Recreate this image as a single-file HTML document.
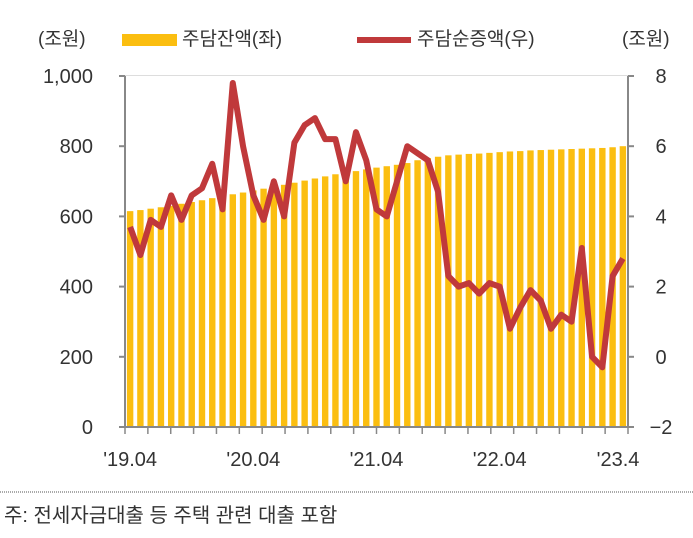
<!DOCTYPE html>
<html><head><meta charset="utf-8"><style>
body{margin:0;background:#fff;font-family:"Liberation Sans","Noto Sans CJK KR",sans-serif;}
svg text{font-family:"Liberation Sans","Noto Sans CJK KR",sans-serif;fill:#333;}
</style></head><body>
<svg id="c" width="693" height="533" viewBox="0 0 693 533">
<text x="38" y="45" font-size="19">(조원)</text>
<rect x="122" y="34" width="55" height="12" fill="#FBBE10"/>
<text x="182" y="45" font-size="19">주담잔액(좌)</text>
<line x1="357" y1="40" x2="411" y2="40" stroke="#C0393B" stroke-width="6"/>
<text x="417" y="45" font-size="19">주담순증액(우)</text>
<text x="622" y="45" font-size="19">(조원)</text>
<line x1="125" y1="75.5" x2="628" y2="75.5" stroke="#ddd" stroke-width="1"/>
<g id="bars"></g><g id="axes"></g><g id="line"></g>
<line x1="0" y1="492" x2="693" y2="492" stroke="#555" stroke-width="1" stroke-dasharray="1,1"/>
<text x="4" y="522" font-size="20">주: 전세자금대출 등 주택 관련 대출 포함</text>
</svg>
<script>
const balance=[615,618,622,626,630,636,641,646,652,657,663,668,674,679,684,690,696,702,708,714,720,724,729,734,739,743,747,752,760,766,770,774,776,778,779,781,783,785,786,788,789,790,791,792,793,794,795,797,800];
const increase=[3.7,2.9,3.9,3.7,4.6,3.9,4.6,4.8,5.5,4.2,7.8,6.0,4.6,3.9,5.0,4.0,6.1,6.6,6.8,6.2,6.2,5.0,6.4,5.6,4.2,4.0,5.0,6.0,5.8,5.6,4.7,2.3,2.0,2.1,1.8,2.1,2.0,0.8,1.4,1.9,1.6,0.8,1.2,1.0,3.1,0.0,-0.3,2.3,2.8];
const leftTicks=[0,200,400,600,800,1000];
const rightTicks=[-2,0,2,4,6,8];
const xLabels=["'19.04","'20.04","'21.04","'22.04","'23.4"];
const xLabelIdx=[0,12,24,36,48];
const NS="http://www.w3.org/2000/svg";
const X0=125,X1=628,Y0=427,Y1=76;
const n=balance.length;
const step=(X1-X0)/n;
function xc(i){return X0+step*(i+0.5);}
function yl(v){return Y0-(v/1000)*(Y0-Y1);}
function yr(v){return Y0-((v+2)/10)*(Y0-Y1);}
function mk(tag,attrs,parent){const e=document.createElementNS(NS,tag);for(const k in attrs)e.setAttribute(k,attrs[k]);parent.appendChild(e);return e;}
const gb=document.getElementById('bars'),ga=document.getElementById('axes'),gl=document.getElementById('line');
balance.forEach((v,i)=>{const r=mk('rect',{x:xc(i)-3.2,y:yl(v),width:6.4,height:Y0-yl(v),fill:'#FBBE10'},gb);

});
let a=mk('line',{x1:X0,y1:Y1,x2:X0,y2:Y0,stroke:'#888','stroke-width':2},ga);


a=mk('line',{x1:X1,y1:Y1,x2:X1,y2:Y0,stroke:'#888','stroke-width':2},ga);


a=mk('line',{x1:X0-5,y1:Y0,x2:X1+5,y2:Y0,stroke:'#888','stroke-width':2},ga);


leftTicks.forEach(v=>{mk('line',{x1:X0-6,y1:yl(v),x2:X0,y2:yl(v),stroke:'#888','stroke-width':2},ga);
const t=mk('text',{x:X0-10-22,y:yl(v)+7,'font-size':20,'text-anchor':'end'},ga);t.textContent=v.toLocaleString('en-US');

});
rightTicks.forEach(v=>{mk('line',{x1:X1,y1:yr(v),x2:X1+6,y2:yr(v),stroke:'#888','stroke-width':2},ga);
const t=mk('text',{x:X1+33,y:yr(v)+7,'font-size':20,'text-anchor':'middle'},ga);t.textContent=v<0?'−'+(-v):v;

});
for(let k=0;k<=22;k++){const x=X0+(X1-X0)*k/22;mk('line',{x1:x,y1:Y0,x2:x,y2:Y0+7,stroke:'#888','stroke-width':1.5},ga);}
xLabels.forEach((s,j)=>{const t=mk('text',{x:Math.min(xc(xLabelIdx[j]),618),y:Y0+39,'font-size':20,'text-anchor':'middle'},ga);t.textContent=s;

});
const p=mk('polyline',{points:increase.map((v,i)=>xc(i)+','+yr(v)).join(' '),fill:'none',stroke:'#C0393B','stroke-width':6,'stroke-linejoin':'round'},gl);


</script>
</body></html>
